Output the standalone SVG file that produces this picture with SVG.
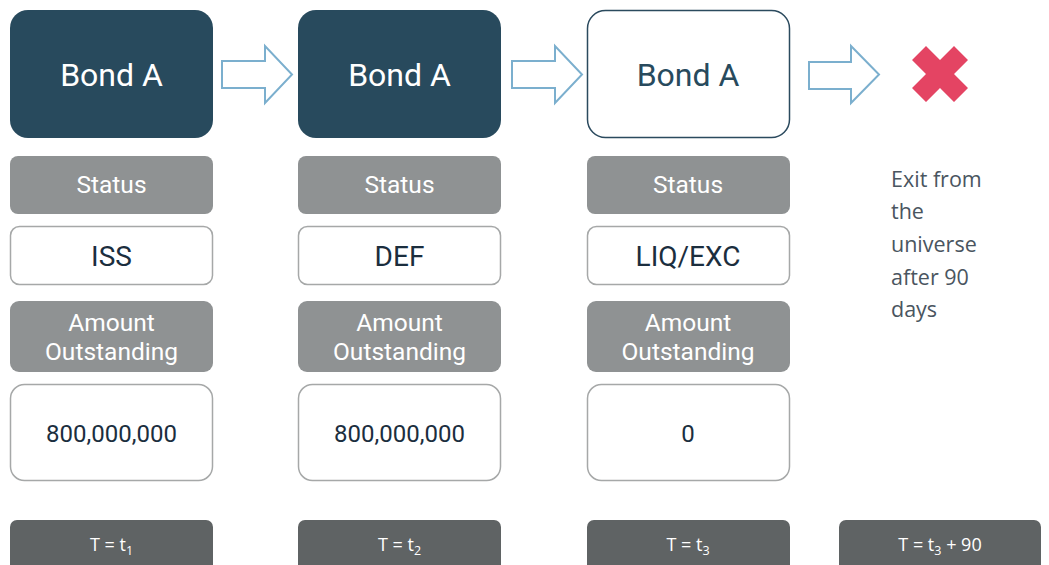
<svg xmlns="http://www.w3.org/2000/svg" width="1049" height="565" viewBox="0 0 1049 565">
<style>
.bondDark{fill:#284A5D;}
.bondLight{fill:#fff;stroke:#2B4A5E;stroke-width:1.5;}
.hdr{fill:#8F9293;}
.val{fill:#fff;stroke:#A6A8A8;stroke-width:1.5;}
.tbox{fill:#5F6364;}
.t-bond{font-family:Roboto,"Liberation Sans",sans-serif;font-size:32px;text-anchor:middle;}
.t-hdr{font-family:Roboto,"Liberation Sans",sans-serif;font-size:24.5px;fill:#fff;text-anchor:middle;}
.t-val{font-family:Roboto,"Liberation Sans",sans-serif;font-size:28px;fill:#1B2E3E;text-anchor:middle;}
.t-num{font-family:Roboto,"Liberation Sans",sans-serif;font-size:24px;fill:#1B2E3E;text-anchor:middle;}
.t-t{font-family:"Open Sans","Liberation Sans",sans-serif;font-size:18px;fill:#fff;text-anchor:middle;}
.t-sub{font-size:12.5px;}
.t-exit{font-family:"Open Sans","Liberation Sans",sans-serif;font-size:21.5px;fill:#4A5560;}
.arrow{fill:#fff;stroke:#7BAFCE;stroke-width:2;}
</style>
<g id="connectors">
<polygon class="arrow" points="222,61 265,61 265,46 292,74.5 265,103 265,88 222,88"/>
<polygon class="arrow" points="512,61 555,61 555,46 582,74.5 555,103 555,88 512,88"/>
<polygon class="arrow" points="809,62 851,62 851,46 879,74.5 851,103 851,89 809,89"/>
</g>
<g id="col1">
<rect class="bondDark" x="10" y="10" width="203" height="128" rx="18"/>
<text class="t-bond" x="111.5" y="86" fill="#fff">Bond A</text>
<rect class="hdr" x="10" y="156" width="203" height="58" rx="8"/>
<text class="t-hdr" x="111.5" y="193">Status</text>
<rect class="val" x="10.5" y="226.5" width="202" height="58" rx="9"/>
<text class="t-val" x="111.5" y="266">ISS</text>
<rect class="hdr" x="10" y="301" width="203" height="71" rx="9"/>
<text class="t-hdr" x="111.5" y="331">Amount</text>
<text class="t-hdr" x="111.5" y="360">Outstanding</text>
<rect class="val" x="10.5" y="384.5" width="202" height="96" rx="14"/>
<text class="t-num" x="111.5" y="442">800,000,000</text>
<rect class="tbox" x="10" y="520" width="203" height="55" rx="7"/>
<text class="t-t" x="111.5" y="551">T = t<tspan class="t-sub" dy="4">1</tspan></text>
</g>
<g id="col2">
<rect class="bondDark" x="298" y="10" width="203" height="128" rx="18"/>
<text class="t-bond" x="399.5" y="86" fill="#fff">Bond A</text>
<rect class="hdr" x="298" y="156" width="203" height="58" rx="8"/>
<text class="t-hdr" x="399.5" y="193">Status</text>
<rect class="val" x="298.5" y="226.5" width="202" height="58" rx="9"/>
<text class="t-val" x="399.5" y="266">DEF</text>
<rect class="hdr" x="298" y="301" width="203" height="71" rx="9"/>
<text class="t-hdr" x="399.5" y="331">Amount</text>
<text class="t-hdr" x="399.5" y="360">Outstanding</text>
<rect class="val" x="298.5" y="384.5" width="202" height="96" rx="14"/>
<text class="t-num" x="399.5" y="442">800,000,000</text>
<rect class="tbox" x="298" y="520" width="203" height="55" rx="7"/>
<text class="t-t" x="399.5" y="551">T = t<tspan class="t-sub" dy="4">2</tspan></text>
</g>
<g id="col3">
<rect class="bondLight" x="587.5" y="10.5" width="202" height="127" rx="18"/>
<text class="t-bond" x="688" y="86" fill="#284A5D">Bond A</text>
<rect class="hdr" x="587" y="156" width="203" height="58" rx="8"/>
<text class="t-hdr" x="688" y="193">Status</text>
<rect class="val" x="587.5" y="226.5" width="202" height="58" rx="9"/>
<text class="t-val" x="688" y="266">LIQ/EXC</text>
<rect class="hdr" x="587" y="301" width="203" height="71" rx="9"/>
<text class="t-hdr" x="688" y="331">Amount</text>
<text class="t-hdr" x="688" y="360">Outstanding</text>
<rect class="val" x="587.5" y="384.5" width="202" height="96" rx="14"/>
<text class="t-num" x="688" y="442">0</text>
<rect class="tbox" x="587" y="520" width="203" height="55" rx="7"/>
<text class="t-t" x="688" y="551">T = t<tspan class="t-sub" dy="4">3</tspan></text>
</g>
<g id="col4">
<polygon fill="#E44463" points="940,60 954,46 968,60 954,74 968,88 954,102 940,88 926,102 912,88 926,74 912,60 926,46"/>
<text class="t-exit" x="891" y="187">Exit from</text>
<text class="t-exit" x="891" y="219">the</text>
<text class="t-exit" x="891" y="252">universe</text>
<text class="t-exit" x="891" y="285">after 90</text>
<text class="t-exit" x="891" y="317">days</text>
<rect class="tbox" x="839" y="520" width="202" height="55" rx="7"/>
<text class="t-t" x="940" y="551">T = t<tspan class="t-sub" dy="4">3</tspan><tspan dy="-4"> + 90</tspan></text>
</g>
</svg>
